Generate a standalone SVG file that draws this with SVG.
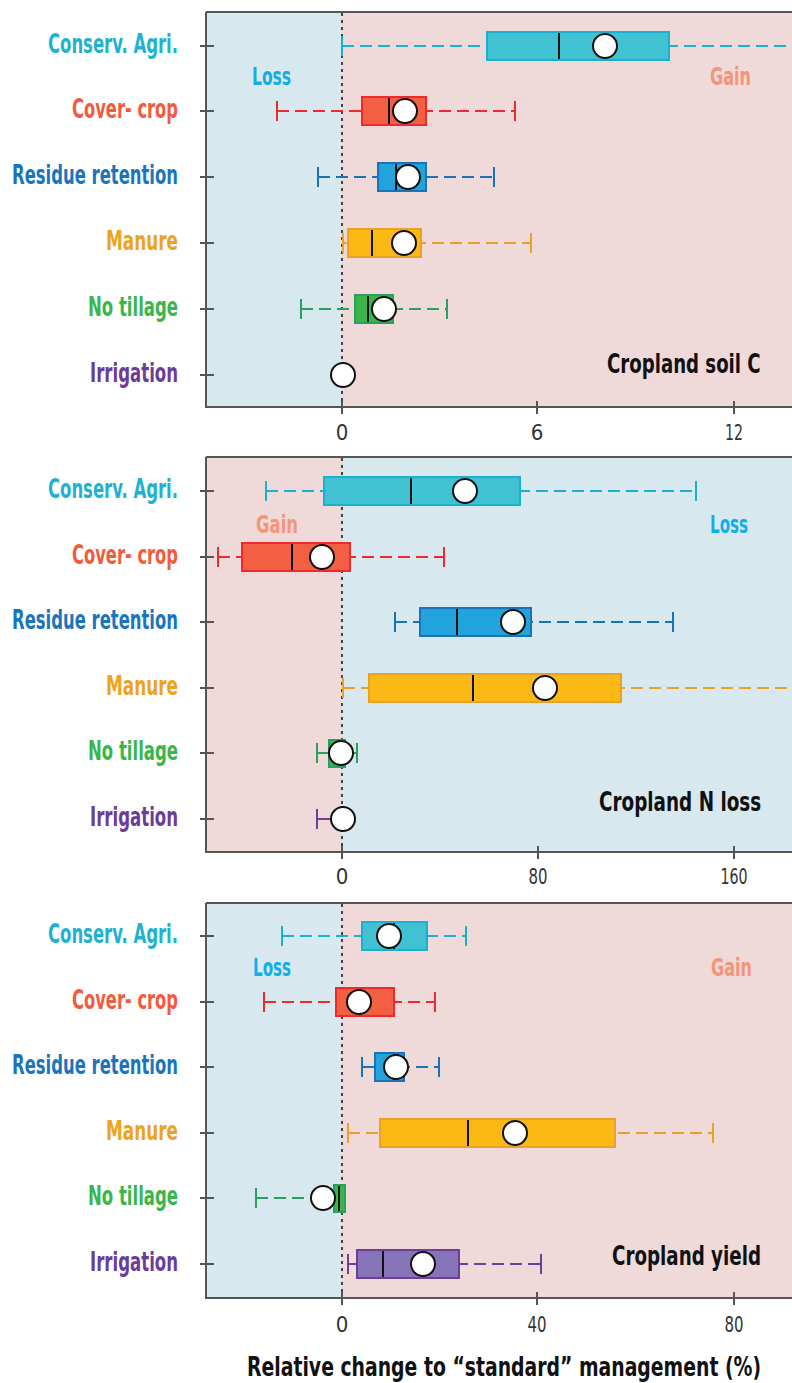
<svg xmlns="http://www.w3.org/2000/svg" width="792" height="1383" viewBox="0 0 792 1383">
<style>
.bg-blue{fill:#d8e8ef}
.bg-pink{fill:#f0d9d9}
.axis{stroke:#555;stroke-width:2;fill:none}
.zero{stroke:#444;stroke-width:2;stroke-dasharray:3 4;fill:none}
.wh{stroke-width:2;stroke-dasharray:12 6;fill:none}
.cap{stroke-width:2;fill:none}
.med{stroke:#111;stroke-width:2}
.mean{fill:#fff;stroke:#111;stroke-width:2}
.lab{font-family:"DejaVu Sans Condensed","DejaVu Sans",sans-serif;font-weight:bold;font-size:26px;text-anchor:end}
.lg{font-family:"DejaVu Sans Condensed","DejaVu Sans",sans-serif;font-weight:bold;font-size:24px}
.ttl{font-family:"DejaVu Sans Condensed","DejaVu Sans",sans-serif;font-weight:bold;font-size:26px;fill:#111}
.tk{font-family:"DejaVu Sans Condensed","DejaVu Sans",sans-serif;font-size:22px;fill:#333;text-anchor:middle}
.c1{fill:#41c2d3;stroke:#1ab0d0}.s1{stroke:#1ab0d0}.t1{fill:#1fb2d0}
.c2{fill:#f25f42;stroke:#ee2a2e}.s2{stroke:#ee2a2e}.t2{fill:#f25b3d}
.c3{fill:#22a3dc;stroke:#1a72b8}.s3{stroke:#1a72b8}.t3{fill:#1a75bc}
.c4{fill:#fcb814;stroke:#eca124}.s4{stroke:#eca124}.t4{fill:#eea31c}
.c5{fill:#39b54a;stroke:#27a060}.s5{stroke:#27a060}.t5{fill:#3ab54a}
.c6{fill:#8773b7;stroke:#6d3f98}.s6{stroke:#6d3f98}.t6{fill:#6b3c98}
.box{stroke-width:2}
.loss{fill:#12aee8}.gain{fill:#f4957a}
</style>

<!-- Panel 1: Cropland soil C -->
<g id="panel1">
  <rect class="bg-blue" x="206" y="12" width="136" height="395"/>
  <rect class="bg-pink" x="342" y="12" width="450" height="395"/>
  <line class="zero" x1="342" y1="13" x2="342" y2="406"/>
  <text class="lg loss" x="252" y="85" textLength="39" lengthAdjust="spacingAndGlyphs">Loss</text>
  <text class="lg gain" x="710" y="85" textLength="41" lengthAdjust="spacingAndGlyphs">Gain</text>
  <text class="ttl" transform="translate(607 373) scale(0.78 1)" x="0" y="0" textLength="197" lengthAdjust="spacingAndGlyphs">Cropland soil C</text>
  <g id="p1-conserv">
    <line class="wh s1" x1="342" y1="46" x2="792" y2="46"/>
    <line class="cap s1" x1="342" y1="36" x2="342" y2="56"/>
    <rect class="box c1" x="487" y="32" width="182" height="28"/>
    <line class="med" x1="559" y1="33" x2="559" y2="59"/>
    <circle class="mean" cx="605" cy="46" r="12"/>
  </g>
  <g id="p1-cover">
    <line class="wh s2" x1="277" y1="111" x2="515" y2="111"/>
    <line class="cap s2" x1="277" y1="101" x2="277" y2="121"/>
    <line class="cap s2" x1="515" y1="101" x2="515" y2="121"/>
    <rect class="box c2" x="362" y="97" width="64" height="28"/>
    <line class="med" x1="389" y1="98" x2="389" y2="124"/>
    <circle class="mean" cx="405" cy="111" r="12"/>
  </g>
  <g id="p1-residue">
    <line class="wh s3" x1="318" y1="177" x2="494" y2="177"/>
    <line class="cap s3" x1="318" y1="167" x2="318" y2="187"/>
    <line class="cap s3" x1="494" y1="167" x2="494" y2="187"/>
    <rect class="box c3" x="378" y="163" width="48" height="28"/>
    <line class="med" x1="396" y1="164" x2="396" y2="190"/>
    <circle class="mean" cx="408" cy="177" r="12"/>
  </g>
  <g id="p1-manure">
    <line class="wh s4" x1="342" y1="243" x2="531" y2="243"/>
    <line class="cap s4" x1="343" y1="233" x2="343" y2="253"/>
    <line class="cap s4" x1="531" y1="233" x2="531" y2="253"/>
    <rect class="box c4" x="348" y="229" width="73" height="28"/>
    <line class="med" x1="372" y1="230" x2="372" y2="256"/>
    <circle class="mean" cx="404" cy="243" r="12"/>
  </g>
  <g id="p1-notill">
    <line class="wh s5" x1="301" y1="309" x2="447" y2="309"/>
    <line class="cap s5" x1="301" y1="299" x2="301" y2="319"/>
    <line class="cap s5" x1="447" y1="299" x2="447" y2="319"/>
    <rect class="box c5" x="355" y="295" width="38" height="28"/>
    <line class="med" x1="368" y1="296" x2="368" y2="322"/>
    <circle class="mean" cx="384" cy="309" r="12"/>
  </g>
  <g id="p1-irrigation">
    <circle class="mean" cx="343" cy="375" r="12"/>
  </g>
  <path class="axis" d="M206 12 H792 M206 12 V407 H792"/>
  <path class="axis" d="M200 46 H214 M200 111 H214 M200 177 H214 M200 243 H214 M200 309 H214 M200 375 H214 M342 401 V414 M537 401 V414 M734 401 V414"/>
  <text class="tk" x="342" y="440">0</text>
  <text class="tk" x="537" y="440">6</text>
  <text class="tk" x="734" y="440" textLength="18" lengthAdjust="spacingAndGlyphs">12</text>
</g>

<!-- Panel 2: Cropland N loss -->
<g id="panel2">
  <rect class="bg-pink" x="206" y="457" width="136" height="395"/>
  <rect class="bg-blue" x="342" y="457" width="450" height="395"/>
  <line class="zero" x1="342" y1="458" x2="342" y2="851"/>
  <text class="lg gain" x="256" y="533" textLength="42" lengthAdjust="spacingAndGlyphs">Gain</text>
  <text class="lg loss" x="710" y="533" textLength="38" lengthAdjust="spacingAndGlyphs">Loss</text>
  <text class="ttl" transform="translate(599 811) scale(0.78 1)" x="0" y="0" textLength="208" lengthAdjust="spacingAndGlyphs">Cropland N loss</text>
  <g id="p2-conserv">
    <line class="wh s1" x1="266" y1="491" x2="696" y2="491"/>
    <line class="cap s1" x1="266" y1="481" x2="266" y2="501"/>
    <line class="cap s1" x1="696" y1="481" x2="696" y2="501"/>
    <rect class="box c1" x="324" y="477" width="196" height="28"/>
    <line class="med" x1="411" y1="478" x2="411" y2="504"/>
    <circle class="mean" cx="465" cy="491" r="12"/>
  </g>
  <g id="p2-cover">
    <line class="wh s2" x1="218" y1="557" x2="444" y2="557"/>
    <line class="cap s2" x1="218" y1="547" x2="218" y2="567"/>
    <line class="cap s2" x1="444" y1="547" x2="444" y2="567"/>
    <rect class="box c2" x="242" y="543" width="108" height="28"/>
    <line class="med" x1="292" y1="544" x2="292" y2="570"/>
    <circle class="mean" cx="322" cy="557" r="12"/>
  </g>
  <g id="p2-residue">
    <line class="wh s3" x1="395" y1="622" x2="673" y2="622"/>
    <line class="cap s3" x1="395" y1="612" x2="395" y2="632"/>
    <line class="cap s3" x1="673" y1="612" x2="673" y2="632"/>
    <rect class="box c3" x="420" y="608" width="111" height="28"/>
    <line class="med" x1="457" y1="609" x2="457" y2="635"/>
    <circle class="mean" cx="513" cy="622" r="12"/>
  </g>
  <g id="p2-manure">
    <line class="wh s4" x1="343" y1="688" x2="792" y2="688"/>
    <line class="cap s4" x1="343" y1="678" x2="343" y2="698"/>
    <rect class="box c4" x="369" y="674" width="252" height="28"/>
    <line class="med" x1="473" y1="675" x2="473" y2="701"/>
    <circle class="mean" cx="545" cy="688" r="12"/>
  </g>
  <g id="p2-notill">
    <line class="cap s5" x1="317" y1="753" x2="357" y2="753"/>
    <line class="cap s5" x1="317" y1="743" x2="317" y2="763"/>
    <line class="cap s5" x1="357" y1="743" x2="357" y2="763"/>
    <rect class="box c5" x="329" y="740" width="16" height="27"/>
    <circle class="mean" cx="341" cy="753" r="12"/>
  </g>
  <g id="p2-irrigation">
    <line class="cap s6" x1="317" y1="819" x2="342" y2="819"/>
    <line class="cap s6" x1="317" y1="809" x2="317" y2="829"/>
    <circle class="mean" cx="343" cy="819" r="12"/>
  </g>
  <path class="axis" d="M206 457 H792 M206 457 V852 H792"/>
  <path class="axis" d="M200 491 H214 M200 557 H214 M200 622 H214 M200 688 H214 M200 753 H214 M200 819 H214 M342 846 V859 M538 846 V859 M734 846 V859"/>
  <text class="tk" x="342" y="884">0</text>
  <text class="tk" x="538" y="884" textLength="19" lengthAdjust="spacingAndGlyphs">80</text>
  <text class="tk" x="734" y="884" textLength="27" lengthAdjust="spacingAndGlyphs">160</text>
</g>

<!-- Panel 3: Cropland yield -->
<g id="panel3">
  <rect class="bg-blue" x="206" y="903" width="136" height="395"/>
  <rect class="bg-pink" x="342" y="903" width="450" height="395"/>
  <line class="zero" x1="342" y1="904" x2="342" y2="1297"/>
  <text class="lg loss" x="253" y="976" textLength="38" lengthAdjust="spacingAndGlyphs">Loss</text>
  <text class="lg gain" x="711" y="976" textLength="41" lengthAdjust="spacingAndGlyphs">Gain</text>
  <text class="ttl" transform="translate(612 1265) scale(0.78 1)" x="0" y="0" textLength="191" lengthAdjust="spacingAndGlyphs">Cropland yield</text>
  <g id="p3-conserv">
    <line class="wh s1" x1="282" y1="936" x2="466" y2="936"/>
    <line class="cap s1" x1="282" y1="926" x2="282" y2="946"/>
    <line class="cap s1" x1="466" y1="926" x2="466" y2="946"/>
    <rect class="box c1" x="362" y="922" width="65" height="28"/>
    <line class="med" x1="394" y1="923" x2="394" y2="949"/>
    <circle class="mean" cx="389" cy="936" r="12"/>
  </g>
  <g id="p3-cover">
    <line class="wh s2" x1="264" y1="1002" x2="435" y2="1002"/>
    <line class="cap s2" x1="264" y1="992" x2="264" y2="1012"/>
    <line class="cap s2" x1="435" y1="992" x2="435" y2="1012"/>
    <rect class="box c2" x="336" y="988" width="58" height="28"/>
    <line class="med" x1="360" y1="989" x2="360" y2="1015"/>
    <circle class="mean" cx="359" cy="1002" r="12"/>
  </g>
  <g id="p3-residue">
    <line class="wh s3" x1="362" y1="1067" x2="439" y2="1067"/>
    <line class="cap s3" x1="362" y1="1057" x2="362" y2="1077"/>
    <line class="cap s3" x1="439" y1="1057" x2="439" y2="1077"/>
    <rect class="box c3" x="375" y="1053" width="29" height="28"/>
    <line class="med" x1="394" y1="1054" x2="394" y2="1080"/>
    <circle class="mean" cx="396" cy="1067" r="12"/>
  </g>
  <g id="p3-manure">
    <line class="wh s4" x1="348" y1="1133" x2="713" y2="1133"/>
    <line class="cap s4" x1="348" y1="1123" x2="348" y2="1143"/>
    <line class="cap s4" x1="713" y1="1123" x2="713" y2="1143"/>
    <rect class="box c4" x="380" y="1119" width="235" height="28"/>
    <line class="med" x1="468" y1="1120" x2="468" y2="1146"/>
    <circle class="mean" cx="515" cy="1133" r="12"/>
  </g>
  <g id="p3-notill">
    <line class="wh s5" x1="256" y1="1198" x2="345" y2="1198"/>
    <line class="cap s5" x1="256" y1="1188" x2="256" y2="1208"/>
    <line class="cap s5" x1="345" y1="1188" x2="345" y2="1208"/>
    <rect class="box c5" x="334" y="1185" width="11" height="27"/>
    <line class="med" x1="339" y1="1186" x2="339" y2="1211"/>
    <circle class="mean" cx="323" cy="1198" r="12"/>
  </g>
  <g id="p3-irrigation">
    <line class="wh s6" x1="348" y1="1264" x2="541" y2="1264"/>
    <line class="cap s6" x1="348" y1="1254" x2="348" y2="1274"/>
    <line class="cap s6" x1="541" y1="1254" x2="541" y2="1274"/>
    <rect class="box c6" x="357" y="1250" width="102" height="28"/>
    <line class="med" x1="383" y1="1251" x2="383" y2="1277"/>
    <circle class="mean" cx="423" cy="1264" r="12"/>
  </g>
  <path class="axis" d="M206 903 H792 M206 903 V1298 H792"/>
  <path class="axis" d="M200 936 H214 M200 1002 H214 M200 1067 H214 M200 1133 H214 M200 1198 H214 M200 1264 H214 M342 1292 V1305 M537 1292 V1305 M734 1292 V1305"/>
  <text class="tk" x="342" y="1332">0</text>
  <text class="tk" x="537" y="1332" textLength="19" lengthAdjust="spacingAndGlyphs">40</text>
  <text class="tk" x="734" y="1332" textLength="19" lengthAdjust="spacingAndGlyphs">80</text>
</g>

<!-- Row labels -->
<g id="labels">
  <g id="lab1"><text class="lab t1" x="178" y="53" textLength="130" lengthAdjust="spacingAndGlyphs">Conserv. Agri.</text><text class="lab t1" x="178" y="498" textLength="130" lengthAdjust="spacingAndGlyphs">Conserv. Agri.</text><text class="lab t1" x="178" y="943" textLength="130" lengthAdjust="spacingAndGlyphs">Conserv. Agri.</text></g>
  <g id="lab2"><text class="lab t2" x="178" y="118" textLength="106" lengthAdjust="spacingAndGlyphs">Cover- crop</text><text class="lab t2" x="178" y="564" textLength="106" lengthAdjust="spacingAndGlyphs">Cover- crop</text><text class="lab t2" x="178" y="1009" textLength="106" lengthAdjust="spacingAndGlyphs">Cover- crop</text></g>
  <g id="lab3"><text class="lab t3" x="178" y="184" textLength="166" lengthAdjust="spacingAndGlyphs">Residue retention</text><text class="lab t3" x="178" y="629" textLength="166" lengthAdjust="spacingAndGlyphs">Residue retention</text><text class="lab t3" x="178" y="1074" textLength="166" lengthAdjust="spacingAndGlyphs">Residue retention</text></g>
  <g id="lab4"><text class="lab t4" x="178" y="250" textLength="72" lengthAdjust="spacingAndGlyphs">Manure</text><text class="lab t4" x="178" y="695" textLength="72" lengthAdjust="spacingAndGlyphs">Manure</text><text class="lab t4" x="178" y="1140" textLength="72" lengthAdjust="spacingAndGlyphs">Manure</text></g>
  <g id="lab5"><text class="lab t5" x="178" y="316" textLength="90" lengthAdjust="spacingAndGlyphs">No tillage</text><text class="lab t5" x="178" y="760" textLength="90" lengthAdjust="spacingAndGlyphs">No tillage</text><text class="lab t5" x="178" y="1205" textLength="90" lengthAdjust="spacingAndGlyphs">No tillage</text></g>
  <g id="lab6"><text class="lab t6" x="178" y="382" textLength="88" lengthAdjust="spacingAndGlyphs">Irrigation</text><text class="lab t6" x="178" y="826" textLength="88" lengthAdjust="spacingAndGlyphs">Irrigation</text><text class="lab t6" x="178" y="1271" textLength="88" lengthAdjust="spacingAndGlyphs">Irrigation</text></g>
</g>

<g id="connectors"></g>

<text class="ttl" transform="translate(247 1376) scale(0.78 1)" x="0" y="0" textLength="659" lengthAdjust="spacingAndGlyphs">Relative change to “standard” management (%)</text>
</svg>
